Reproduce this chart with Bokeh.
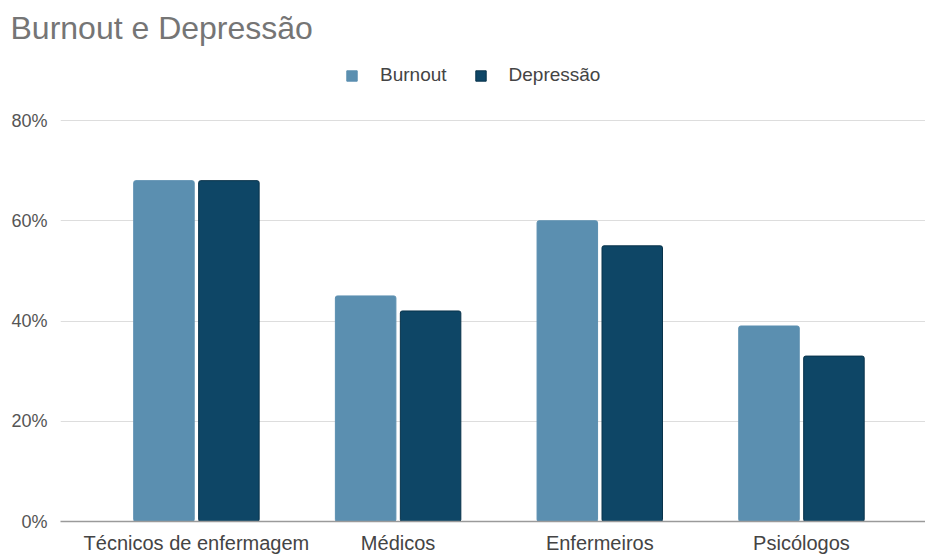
from bokeh.plotting import figure
from bokeh.models import (ColumnDataSource, Range1d, FixedTicker, NumeralTickFormatter,
                          Legend, LegendItem, Title)
from bokeh.embed import file_html
from bokeh.resources import INLINE

title_text = "Burnout e Depressão"
categories = ["Técnicos de enfermagem", "Médicos", "Enfermeiros", "Psicólogos"]
burnout = [0.68, 0.45, 0.60, 0.39]
depressao = [0.68, 0.42, 0.55, 0.33]
series_names = ["Burnout", "Depressão"]
colors = ["#5b8fb0", "#0e4666"]
y_ticks = [0, 0.2, 0.4, 0.6, 0.8]

idx = list(range(len(categories)))
src = ColumnDataSource(dict(
    x=idx,
    xb=[i - 0.161 for i in idx],
    xd=[i + 0.161 for i in idx],
    burnout=burnout,
    depressao=depressao,
))

FONT = "Liberation Sans"
TOP = 45          # frame top in px
BOTTOM = 36       # space under frame
# 0.8 should sit at y=120, 0 at y=521
px_per_unit = (521 - 120) / 0.8
y_end = (521 - TOP) / px_per_unit

p = figure(width=925, height=557, output_backend="svg", toolbar_location=None,
           x_range=Range1d(-0.674, 3.615), y_range=Range1d(0, y_end),
           min_border_left=60, min_border_right=0, min_border_top=TOP, min_border_bottom=BOTTOM,
           title=None)
p.outline_line_color = None
p.background_fill_color = "white"
p.border_fill_color = "white"

rb = p.vbar(x="xb", top="burnout", width=0.30, source=src, fill_color=colors[0],
            line_color=colors[0], line_width=1, border_radius=2)
rd = p.vbar(x="xd", top="depressao", width=0.30, source=src, fill_color=colors[1],
            line_color="#08324a", line_width=1, border_radius=2)

# axes
p.xaxis.ticker = FixedTicker(ticks=idx)
p.xaxis.major_label_overrides = {i: c for i, c in zip(idx, categories)}
p.xaxis.major_tick_line_color = None
p.xaxis.minor_tick_line_color = None
p.xaxis.axis_line_color = "#9a9a9a"
p.xaxis.axis_line_width = 1.5
p.xaxis.major_label_text_font = FONT
p.xaxis.major_label_text_font_size = "20px"
p.xaxis.major_label_text_color = "#444444"
p.xaxis.major_label_standoff = 4
p.xgrid.grid_line_color = None

p.yaxis.ticker = FixedTicker(ticks=y_ticks)
p.yaxis.formatter = NumeralTickFormatter(format="0%")
p.yaxis.axis_line_color = None
p.yaxis.major_tick_line_color = None
p.yaxis.minor_tick_line_color = None
p.yaxis.major_label_text_font = FONT
p.yaxis.major_label_text_font_size = "18px"
p.yaxis.major_label_text_color = "#555555"
p.yaxis.major_label_standoff = 7
p.ygrid.grid_line_color = "#dddddd"
p.ygrid.grid_line_width = 1.2
p.ygrid.ticker = FixedTicker(ticks=y_ticks)

legend = Legend(items=[LegendItem(label=series_names[0], renderers=[rb]),
                       LegendItem(label=series_names[1], renderers=[rd])],
                orientation="horizontal", location=(285, 435),
                label_text_font=FONT, label_text_font_size="19px", label_text_color="#444444",
                glyph_width=13, glyph_height=13, spacing=27, label_standoff=22,
                border_line_color=None, background_fill_alpha=0,
                padding=0, margin=0)
p.add_layout(legend, "center")

t = Title(text=title_text, align="left", text_font=FONT, text_font_size="32px",
          text_font_style="normal", text_color="#757575", offset=-50, standoff=0)
p.add_layout(t, "above")

open("out.html", "w").write(file_html(p, INLINE))
